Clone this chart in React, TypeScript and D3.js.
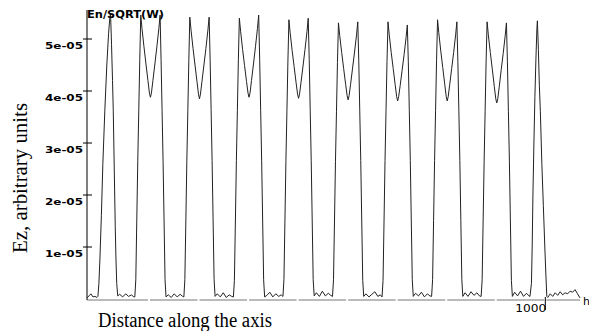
import React from 'react';
import * as d3 from 'd3';

// Ez profile along the axis, values in units of 1e-5
const leadIn: [number, number][] = [
  [75, 0.02], [79, 0.06], [83, 0.1], [87, 0.04], [91, 0.05], [95, 0.03],
];
const firstPeak: [number, number][] = [
  [97, 0.05], [99, 0.3], [101, 0.75], [104, 1.6], [107, 2.6], [111, 3.63], [115, 4.5],
  [118.5, 5.1], [121, 5.4], [122.5, 5.5], [124.5, 4.9], [126.5, 4.2], [128, 3.63],
  [130, 2.5], [132, 1.4], [133.5, 0.75], [135, 0.3], [137, 0.06],
  [141, 0.09], [147, 0.04], [153, 0.1], [159, 0.05], [165, 0.08], [169, 0.04],
];
const cell2: [number, number][] = [
  [171.5, 0.04], [173.5, 0.37], [175.5, 1.52], [177.5, 2.67], [179.5, 3.63], [181.5, 4.6],
  [183.5, 5.46], [186, 5.2], [190, 4.85], [194, 4.52], [198, 4.2], [201, 3.96], [203, 3.88],
  [205, 3.96], [208, 4.2], [212, 4.52], [216, 4.85], [220, 5.2], [222.5, 5.46], [224.5, 4.6],
  [226.5, 3.63], [228.5, 2.67], [230.5, 1.52], [232.5, 0.37], [234.5, 0.04],
  [239, 0.08], [245, 0.03], [251, 0.1], [257, 0.04], [263, 0.09], [268, 0.05],
];
const cell3: [number, number][] = [
  [270.5, 0.04], [272.5, 0.37], [274.5, 1.5], [276.5, 2.65], [278.5, 3.62], [280.5, 4.58],
  [282.5, 5.42], [285, 5.17], [289, 4.82], [293, 4.5], [297, 4.18], [300, 3.94], [302, 3.85],
  [304, 3.94], [307, 4.18], [311, 4.5], [315, 4.82], [319, 5.17], [321.5, 5.42], [323.5, 4.6],
  [325.5, 3.64], [327.5, 2.66], [329.5, 1.52], [331.5, 0.38], [333.5, 0.05],
  [338, 0.1], [344, 0.04], [350, 0.12], [356, 0.03], [362, 0.08], [367, 0.05],
];
const cell4: [number, number][] = [
  [370.5, 0.04], [372.5, 0.36], [374.5, 1.5], [376.5, 2.66], [378.5, 3.63], [380.5, 4.6],
  [382.5, 5.4], [385, 5.15], [389, 4.8], [393, 4.49], [397, 4.18], [400, 3.96], [402, 3.88],
  [404, 3.96], [407, 4.2], [411, 4.52], [415, 4.85], [419, 5.2], [421.5, 5.46], [423.5, 4.6],
  [425.5, 3.63], [427.5, 2.67], [429.5, 1.52], [431.5, 0.37], [433.5, 0.04],
  [438, 0.07], [444, 0.13], [450, 0.04], [456, 0.1], [462, 0.05], [467, 0.08],
];
const cell5: [number, number][] = [
  [470.5, 0.05], [472.5, 0.38], [474.5, 1.52], [476.5, 2.67], [478.5, 3.62], [480.5, 4.58],
  [482.5, 5.37], [485, 5.12], [489, 4.78], [493, 4.47], [497, 4.16], [500, 3.94], [502, 3.86],
  [504, 3.94], [507, 4.17], [511, 4.48], [515, 4.8], [519, 5.14], [521.5, 5.4], [523.5, 4.6],
  [525.5, 3.63], [527.5, 2.67], [529.5, 1.52], [531.5, 0.37], [533.5, 0.06],
  [538, 0.12], [544, 0.05], [550, 0.15], [556, 0.06], [562, 0.11], [567, 0.07],
];
const cell6: [number, number][] = [
  [570.5, 0.05], [572.5, 0.37], [574.5, 1.5], [576.5, 2.65], [578.5, 3.6], [580.5, 4.55],
  [582.5, 5.31], [585, 5.07], [589, 4.74], [593, 4.43], [597, 4.13], [600, 3.91], [602, 3.83],
  [604, 3.91], [607, 4.13], [611, 4.44], [615, 4.75], [619, 5.08], [621.5, 5.33], [623.5, 4.58],
  [625.5, 3.62], [627.5, 2.66], [629.5, 1.5], [631.5, 0.36], [633.5, 0.05],
  [638, 0.1], [644, 0.04], [650, 0.09], [656, 0.14], [662, 0.05], [667, 0.08],
];
const cell7: [number, number][] = [
  [670.5, 0.04], [672.5, 0.36], [674.5, 1.5], [676.5, 2.66], [678.5, 3.62], [680.5, 4.57],
  [682.5, 5.33], [685, 5.08], [689, 4.74], [693, 4.43], [697, 4.12], [700, 3.89], [702, 3.81],
  [704, 3.89], [707, 4.1], [711, 4.4], [715, 4.7], [719, 5.03], [721.5, 5.27], [723.5, 4.56],
  [725.5, 3.62], [727.5, 2.66], [729.5, 1.5], [731.5, 0.37], [733.5, 0.05],
  [738, 0.11], [744, 0.06], [750, 0.13], [756, 0.04], [762, 0.1], [767, 0.06],
];
const cell8: [number, number][] = [
  [770.5, 0.05], [772.5, 0.37], [774.5, 1.51], [776.5, 2.66], [778.5, 3.62], [780.5, 4.58],
  [782.5, 5.37], [785, 5.12], [789, 4.77], [793, 4.45], [797, 4.13], [800, 3.89], [802, 3.81],
  [804, 3.89], [807, 4.12], [811, 4.43], [815, 4.74], [819, 5.08], [821.5, 5.33], [823.5, 4.57],
  [825.5, 3.62], [827.5, 2.66], [829.5, 1.51], [831.5, 0.37], [833.5, 0.05],
  [838, 0.12], [844, 0.05], [850, 0.14], [856, 0.07], [862, 0.12], [867, 0.06],
];
const cell9: [number, number][] = [
  [870.5, 0.05], [872.5, 0.37], [874.5, 1.5], [876.5, 2.65], [878.5, 3.6], [880.5, 4.56],
  [882.5, 5.33], [885, 5.08], [889, 4.74], [893, 4.42], [897, 4.09], [900, 3.85], [902, 3.77],
  [904, 3.85], [907, 4.08], [911, 4.41], [915, 4.72], [919, 5.06], [921.5, 5.31], [923.5, 4.56],
  [925.5, 3.61], [927.5, 2.65], [929.5, 1.5], [931.5, 0.36], [933.5, 0.05],
  [938, 0.13], [944, 0.06], [950, 0.15], [956, 0.05], [962, 0.11], [967, 0.06],
];
const lastPeak: [number, number][] = [
  [969, 0.05], [972, 0.3], [973.5, 1.0], [975, 2.0], [977, 3.0], [979, 3.9], [981, 4.6],
  [983, 5.2], [984, 5.35], [986, 4.8], [988, 4.1], [990, 3.6], [993, 2.6], [996, 1.8],
  [999, 1.0], [1001, 0.5], [1003, 0.05],
];
const tailOut: [number, number][] = [
  [1005, 0.03], [1010, 0.1], [1015, 0.05], [1020, 0.12], [1025, 0.07], [1030, 0.14],
  [1035, 0.08], [1040, 0.12], [1045, 0.1], [1050, 0.15], [1055, 0.13], [1060, 0.18],
  [1065, 0.1], [1070, 0.02],
];

const yTicks = [1, 2, 3, 4, 5];
const yTickLabels = ['1e-05', '2e-05', '3e-05', '4e-05', '5e-05'];
const xTickMarks = [200, 300, 400, 500, 600, 700, 800, 900, 1000];
const xLabelTick = 1000;

const W = 589;
const H = 331;

export default function App() {
  const trace = [
    ...leadIn, ...firstPeak, ...cell2, ...cell3, ...cell4, ...cell5,
    ...cell6, ...cell7, ...cell8, ...cell9, ...lastPeak, ...tailOut,
  ];

  const x = d3.scaleLinear().domain([75, 1070]).range([87, 580]);
  const y = d3.scaleLinear().domain([0, 5.5]).range([299, 13]);

  const line = d3.line<[number, number]>()
    .x(d => x(d[0]))
    .y(d => y(d[1]));

  const axisY = y(0) + 1;
  const pixelFont = '"DejaVu Sans", sans-serif';

  return (
    <svg width={W} height={H} style={{ position: 'absolute', left: 0, top: 0, background: '#fff' }}>
      {/* x axis: grey line broken at each hundred */}
      <line x1={x(75)} x2={x(1070)} y1={axisY} y2={axisY} stroke="#777" strokeWidth={1} />
      {xTickMarks.map(t => (
        <rect key={t} x={x(t) - 1} y={axisY - 1} width={2} height={2} fill="#fff" />
      ))}

      {/* y axis */}
      <line x1={87} x2={87} y1={10} y2={axisY} stroke="#000" strokeWidth={1} />
      {yTicks.map((t, i) => (
        <g key={t}>
          <line x1={83} x2={92} y1={y(t)} y2={y(t)} stroke="#000" strokeWidth={1} />
          <text x={83} y={y(t) + 10} textAnchor="end" fontFamily={pixelFont} fontWeight="bold"
            fontSize={9} textLength={38} lengthAdjust="spacingAndGlyphs" fill="#000">
            {yTickLabels[i]}
          </text>
        </g>
      ))}

      {/* trace */}
      <path d={line(trace) ?? ''} fill="none" stroke="#222" strokeWidth={1} />

      <line x1={x(xLabelTick)} x2={x(xLabelTick)} y1={axisY - 3} y2={axisY + 10} stroke="#000" strokeWidth={1} />
      <text x={x(xLabelTick) + 1} y={312} textAnchor="end" fontFamily={pixelFont} fontSize={11}
        textLength={31} lengthAdjust="spacingAndGlyphs" fill="#000">1000</text>
      <text x={583} y={305} fontFamily={pixelFont} fontSize={11} fill="#000">h</text>

      <text x={87} y={18} fontFamily={pixelFont} fontWeight="bold" fontSize={10}
        textLength={77} lengthAdjust="spacingAndGlyphs" fill="#000">En/SQRT(W)</text>

      {/* axis titles */}
      <text transform="translate(27,178) rotate(-90)" textAnchor="middle"
        fontFamily='"Liberation Serif", "Times New Roman", serif' fontSize={20}
        textLength={150} lengthAdjust="spacingAndGlyphs" fill="#000">Ez, arbitrary units</text>
      <text x={98} y={327} fontFamily='"Liberation Serif", "Times New Roman", serif' fontSize={20}
        textLength={174} lengthAdjust="spacingAndGlyphs" fill="#000">Distance along the axis</text>
    </svg>
  );
}
